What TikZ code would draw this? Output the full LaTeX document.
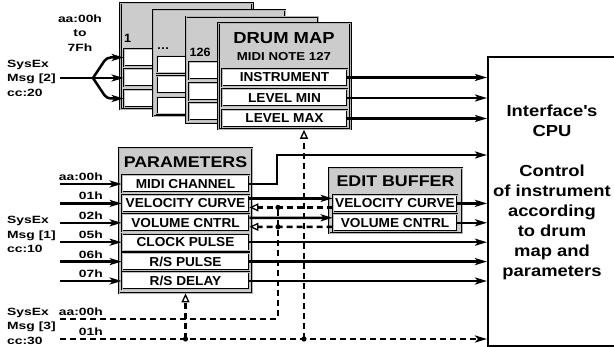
\documentclass[tikz,border=0pt]{standalone}
\usepackage{fontspec}
\setmainfont{Liberation Sans}
\newfontfamily\lblfont{Liberation Sans Bold}[FakeStretch=1.32]
\newfontfamily\ttlfont{Liberation Sans}[FakeStretch=1.15]
\newfontfamily\rowfont{Liberation Sans}[FakeStretch=1.05]
\usetikzlibrary{arrows.meta}
\begin{document}
\begin{tikzpicture}[x=1pt,y=-1pt,
    card/.style={draw=black,fill=gray!40,line width=0.8pt,double=gray!60,double distance=0.6pt,inner sep=0pt},
    rowbox/.style={draw=black,fill=white,line width=0.7pt,double=gray!50,double distance=0.6pt,inner sep=0pt,
        minimum height=17pt,font=\rowfont\bfseries\fontsize{13}{13}\selectfont},
    ttl/.style={inner sep=0pt,font=\ttlfont\bfseries\fontsize{15.5}{18}\selectfont},
    lbl/.style={inner sep=0pt,font=\lblfont\fontsize{10.5}{14.5}\selectfont},
    cardlbl/.style={inner sep=0pt,font=\rowfont\bfseries\fontsize{12}{12}\selectfont},
    wire/.style={line width=2.5pt,-{Stealth[length=12pt,width=7pt,inset=3pt]}},
    dashwire/.style={line width=2.5pt,dash pattern=on 6pt off 4pt},
    opentip/.style={-{Triangle[open,length=9pt,width=8pt,line width=1.3pt]}}]
\useasboundingbox (0,0) rectangle (614,347);

% drum map stack
\foreach \i/\t in {0/1,1/\ldots,2/126}{
    \node[card,anchor=north west,minimum width=132,minimum height=106] (card\i) at (120+32.7*\i,3+6.7*\i) {};
    \node[cardlbl,anchor=base west] (lab\i) at (124+32.7*\i,43+6.7*\i) {\t};
    \foreach \j/\dy in {1/54.5,2/75,3/95.5}
        \node[rowbox,minimum width=125] (c\i-\j) at (186.5+32.7*\i,3+\dy+6.7*\i) {};
}
\node[card,anchor=north west,minimum width=132,minimum height=106] (drum) at (218,23) {};
\node[ttl,font=\ttlfont\bfseries\fontsize{16}{18}\selectfont] (drumttl) at (284,38) {DRUM MAP};
\node[ttl,font=\ttlfont\bfseries\fontsize{11.5}{12}\selectfont] (drumnote) at (284,57) {MIDI NOTE 127};
\node[rowbox,minimum width=125] (inst) at (284.5,77.5) {INSTRUMENT};
\node[rowbox,minimum width=125] (lmin) at (284.5,98) {LEVEL MIN};
\node[rowbox,minimum width=125] (lmax) at (284.5,118.5) {LEVEL MAX};

% parameters
\node[card,minimum width=133,minimum height=145] (param) at (185.5,220.5) {};
\node[ttl] (paramttl) at (185.5,162) {PARAMETERS};
\foreach \txt/\h [count=\i] in {MIDI CHANNEL/aa:00h,VELOCITY CURVE/01h,VOLUME CNTRL/02h,
        CLOCK PULSE/05h,{R/S PULSE}/06h,{R/S DELAY}/07h}{
    \node[rowbox,minimum width=127] (p\i) at (185.5,164.6+19.4*\i) {\txt};
    \coordinate (in\i) at (60,164.6+19.4*\i);
    \node[lbl,anchor=base east] (h\i) at (103,161.1+19.4*\i) {\h};
    \draw[wire] (in\i) -- (p\i.west);
}

% edit buffer
\node[card,minimum width=133,minimum height=65] (edit) at (395.5,200.5) {};
\node[ttl] (editttl) at (395.5,181) {EDIT BUFFER};
\node[rowbox,minimum width=124] (evel) at (395,203.4) {VELOCITY CURVE};
\node[rowbox,minimum width=124] (evol) at (395,222.8) {VOLUME CNTRL};

% cpu
\node[draw,line width=1.6pt,anchor=north west,minimum width=130,minimum height=289] (cpu) at (487,56) {};
\node[ttl,align=center,font=\ttlfont\bfseries\fontsize{16}{20}\selectfont] (cputxt) at (552,192)
    {Interface\textquotesingle s\\CPU\\[20pt]Control\\of instrument\\according\\to drum\\map and\\parameters};

% sysex messages
\node[lbl,align=left,anchor=west] (msg2) at (7,78) {SysEx\\Msg [2]\\cc:20};
\node[lbl,align=center] (range) at (80,33) {aa:00h\\to\\7Fh};
\node[lbl,align=left,anchor=west] (msg1) at (7,234.5) {SysEx\\Msg [1]\\cc:10};
\node[lbl,align=left,anchor=west] (msg3) at (7,326) {SysEx\\Msg [3]\\cc:30};
\node[lbl,anchor=base east] (ha) at (103,315.5) {aa:00h};
\node[lbl,anchor=base east] (hb) at (103,335.5) {01h};

% connectors
\coordinate (split) at (93,78);
\draw[line width=2.5pt] ([xshift=4pt]msg2.east) -- (split);
\foreach \j in {1,2,3}
    \draw[wire,rounded corners=4pt] (split) -- ([xshift=-17pt]c0-\j.west) -- (c0-\j.west);
\foreach \r in {inst,lmin,lmax}
    \draw[wire] (\r.east) -- (\r.east -| cpu.west);
\coordinate (bend) at (277,155);
\draw[wire] (p1.east) -| (bend) -- (bend -| cpu.west);
\draw[wire] ([yshift=5pt]p2.east) -- ([yshift=5pt]evel.west);
\draw[wire] ([yshift=5pt]p3.east) -- ([yshift=5pt]evol.west);
\draw[wire] (evel.east) -- (evel.east -| cpu.west);
\draw[wire] (evol.east) -- (evol.east -| cpu.west);
\foreach \i in {4,5,6}
    \draw[wire] (p\i.east) -- (p\i.east -| cpu.west);

% store / recall
\coordinate (sa) at (60,319);
\coordinate (sb) at (60,339);
\coordinate (jv1) at (278,207.4);
\coordinate (jv2) at (278,226.8);
\draw[dashwire,opentip] ([yshift=-4pt]evel.west) -- ([yshift=-4pt]p2.east);
\draw[dashwire,opentip] ([yshift=-4pt]evol.west) -- ([yshift=-4pt]p3.east);
\draw[dashwire,rounded corners=2pt] (sa) -| (jv1);
\draw[dashwire,-{Stealth[length=12pt,width=7pt,inset=3pt]}] (sb) -- (sb -| cpu.west);
\coordinate (jp) at (param.south |- sb);
\coordinate (jd) at (304,339);
\draw[dashwire,opentip] (jp) -- (param.south);
\draw[dashwire,opentip] (jd) -- (jd |- drum.south);
\foreach \p in {jv1,jv2,jp,jd}
    \fill (\p) circle (2.6pt);
\end{tikzpicture}
\end{document}
